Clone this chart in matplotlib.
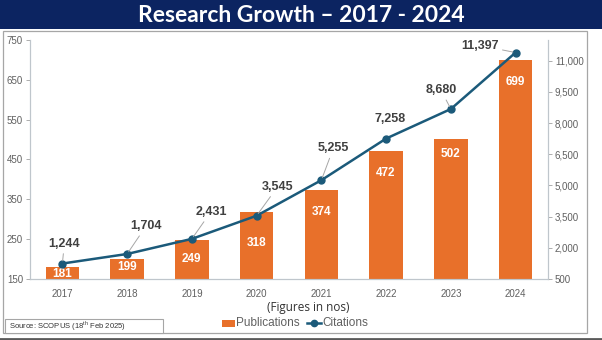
import matplotlib
matplotlib.use("Agg")
import matplotlib.pyplot as plt
from matplotlib.patches import Rectangle
from matplotlib.lines import Line2D

years = ["2017", "2018", "2019", "2020", "2021", "2022", "2023", "2024"]
publications = [181, 199, 249, 318, 374, 472, 502, 699]
citations = [1244, 1704, 2431, 3545, 5255, 7258, 8680, 11397]
cit_labels = ["1,244", "1,704", "2,431", "3,545", "5,255", "7,258", "8,680", "11,397"]
left_ticks = [150, 250, 350, 450, 550, 650, 750]
right_ticks = [500, 2000, 3500, 5000, 6500, 8000, 9500, 11000]

W, H = 602, 340
fig = plt.figure(figsize=(W / 100, H / 100), dpi=100)
fig.patch.set_facecolor("white")

def fx(px):
    return px / W

def fy(py):
    return 1 - py / H

# banner
fig.patches.append(Rectangle((0, fy(29)), 1, 29 / H, transform=fig.transFigure,
                             facecolor="#0c2461", edgecolor="none", zorder=0))
fig.text(0.5, fy(15), "Research Growth \u2013 2017 - 2024", ha="center", va="center",
         color="white", fontsize=16.5, fontweight="bold", family="Lato")
# frame
fig.patches.append(Rectangle((fx(3), fy(333)), fx(584), (333 - 31) / H, transform=fig.transFigure,
                             facecolor="none", edgecolor="#a6a6a6", lw=0.9, zorder=0))
fig.add_artist(Line2D([0, 1], [fy(338.5), fy(338.5)], transform=fig.transFigure,
                      color="#5a5a5a", lw=2))

ax = fig.add_axes([fx(30), fy(279), fx(548 - 30), (279 - 40) / H])
ax2 = ax.twinx()

orange = "#e8702a"
navy = "#1b5a7a"
grey = "#606060"

x = list(range(len(years)))
ax.bar(x, publications, width=0.52, color=orange, zorder=2)
ax.set_xlim(-0.5, len(years) - 0.5)
ax.set_ylim(150, 750)
ax.set_yticks(left_ticks)
ax2.set_ylim(500, 12000)
ax2.set_yticks(right_ticks)
ax2.set_yticklabels([f"{v:,}" for v in right_ticks])
ax.set_xticks(x)
ax.set_xticklabels(years)

for a in (ax, ax2):
    for s in a.spines.values():
        s.set_color("#bfc6cc")
        s.set_linewidth(0.8)
    a.spines["top"].set_visible(False)
    a.tick_params(axis="y", length=3, width=0.6, color="#a0a0a0", labelsize=7,
                  labelcolor=grey, pad=2)
ax.spines["bottom"].set_color("#a9bcc9")
ax.tick_params(axis="x", length=0, labelsize=7, labelcolor=grey, pad=7)
for lbl in ax.get_yticklabels() + ax2.get_yticklabels() + ax.get_xticklabels():
    lbl.set_family("Liberation Sans")

# bar value labels (positions)
bar_label_y = [163, 180, 200, 240, 318, 416, 464, 645]
for xi, v, ly in zip(x, publications, bar_label_y):
    ax.text(xi, ly, str(v), ha="center", va="center", color="white",
            fontsize=8.5, fontweight="bold", family="Liberation Sans", zorder=3)

ax2.plot(x, citations, color=navy, lw=1.8, marker="o", ms=5, zorder=4)

offsets = [(2, 20), (19, 28), (19, 27), (21, 29), (12, 32), (4, 20), (-10, 19), (-36, 7)]
leaders = [True, True, True, True, True, False, True, True]
for xi, v, t, (dx, dy), ld in zip(x, citations, cit_labels, offsets, leaders):
    ax2.annotate(t, (xi, v), xytext=(dx * 0.72, dy * 0.72), textcoords="offset points",
                 ha="center", va="center", fontsize=9, fontweight="bold", color="#404040",
                 family="Liberation Sans",
                 arrowprops=dict(arrowstyle="-", color="#a6a6a6", lw=0.7,
                                 shrinkA=1, shrinkB=2) if ld else None, zorder=5)

# footer texts
fig.text(fx(308), fy(308), "(Figures in nos)", ha="center", va="center",
         fontsize=8.5, color="#333333", family="Open Sans")
fig.patches.append(Rectangle((fx(222), fy(327)), fx(13), 7 / H, transform=fig.transFigure,
                             facecolor=orange, edgecolor="none"))
fig.text(fx(236), fy(323), "Publications", ha="left", va="center", fontsize=8.5,
         color=grey, family="Liberation Sans")
fig.add_artist(Line2D([fx(307), fx(321)], [fy(323), fy(323)], transform=fig.transFigure,
                      color=navy, lw=1.8))
fig.add_artist(Line2D([fx(314)], [fy(323)], transform=fig.transFigure,
                      color=navy, marker="o", ms=4.5, lw=0))
fig.text(fx(322), fy(323), "Citations", ha="left", va="center", fontsize=8.5,
         color=grey, family="Liberation Sans")

fig.patches.append(Rectangle((fx(5), fy(333)), fx(158), 14 / H, transform=fig.transFigure,
                             facecolor="white", edgecolor="#a6a6a6", lw=0.8))
fig.text(fx(9), fy(326), "Source: SCOPUS (18$^{\\mathregular{th}}$ Feb 2025)", ha="left",
         va="center", fontsize=5.5, color="#333333", family="Liberation Sans")

fig.savefig("out.png", dpi=100, facecolor="white")
